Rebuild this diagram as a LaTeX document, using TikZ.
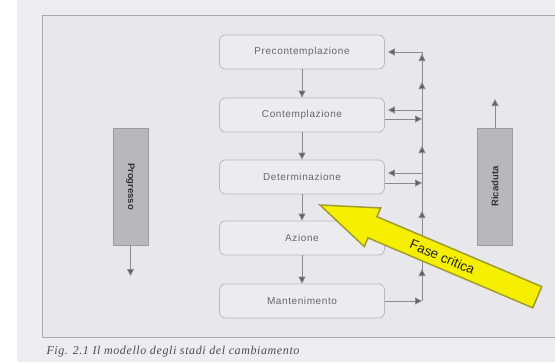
\documentclass[tikz,border=0pt]{standalone}
\usepackage{fontspec}
\setmainfont{Liberation Sans}
\newfontfamily\capfont[LetterSpace=5]{Liberation Serif}
\newfontfamily\stagefont[LetterSpace=6]{Liberation Sans}
\usepackage{tikz}
\usepackage{color}
\usetikzlibrary{arrows.meta,decorations.markings}
\definecolor{paper}{HTML}{EDEDF1}
\definecolor{panel}{HTML}{E7E7EC}
\definecolor{frameline}{HTML}{A9A9B1}
\definecolor{boxline}{HTML}{B9B9C0}
\definecolor{boxfill}{HTML}{ECECF0}
\definecolor{boxtext}{HTML}{66666B}
\definecolor{barfill}{HTML}{B7B7BD}
\definecolor{barline}{HTML}{9C9CA3}
\definecolor{linegray}{HTML}{8A8A90}
\definecolor{tipgray}{HTML}{5E5E64}
\definecolor{arrowyellow}{HTML}{F6F000}
\definecolor{arrowedge}{HTML}{A09C30}

\begin{document}
\begin{tikzpicture}[x=1pt,y=-1pt,
  stage/.style={draw=boxline, fill=boxfill, rounded corners=6pt, line width=0.8pt,
    minimum width=165pt, minimum height=34pt, text=boxtext,
    font=\stagefont\fontsize{10}{12}\selectfont},
  sidebar/.style={draw=barline, fill=barfill, minimum width=35pt, minimum height=117pt,
    inner sep=0pt, font=\bfseries\fontsize{9.5}{11}\selectfont, text=black!80},
  gtip/.tip={Triangle[width=7pt,length=7pt,fill=tipgray]},
  flow/.style={draw=linegray, line width=0.8pt, -{gtip}},
  back/.style={flow, shorten >=3pt}]
\useasboundingbox (0,0) rectangle (555,362);
\fill[white] (0,0) rectangle (555,362);
\fill[paper] (17,0) rectangle (555,362);
\fill[panel] (42,15) rectangle (555,337);
\draw[frameline, line width=1pt] (555,15) -- (42,15) -- (42,337) -- (555,337);

\node[stage] (pre) at (302,52) {Precontemplazione};
\node[stage] (con) at (302,115) {Contemplazione};
\node[stage] (det) at (302,177) {Determinazione};
\node[stage] (azi) at (302,238) {Azione};
\node[stage] (man) at (302,301) {Mantenimento};

\draw[flow] (pre) -- (con);
\draw[flow] (con) -- (det);
\draw[flow] (det) -- (azi);
\draw[flow] (azi) -- (man);

\coordinate (fb) at (422,0);
\coordinate (con-back) at ([yshift=5pt]con.east);
\coordinate (con-fwd) at ([yshift=-4pt]con.east);
\coordinate (det-back) at ([yshift=4pt]det.east);
\coordinate (det-fwd) at ([yshift=-6pt]det.east);

\draw[linegray, line width=0.8pt, postaction={decorate},
  decoration={markings,
    mark=at position 32pt with {\arrow{gtip}},
    mark=at position 90pt with {\arrow{gtip}},
    mark=at position 155pt with {\arrow{gtip}},
    mark=at position 219pt with {\arrow{gtip}},
    mark=at position 247pt with {\arrow{gtip}}}]
  (man.east -| fb) -- (pre.east -| fb);
\draw[back] (pre.east -| fb) -- (pre.east);
\draw[back] (con-back -| fb) -- (con-back);
\draw[flow] (con-fwd) -- (con-fwd -| fb);
\draw[back] (det-back -| fb) -- (det-back);
\draw[flow] (det-fwd) -- (det-fwd -| fb);
\draw[flow] (man.east) -- (man.east -| fb);

\node[sidebar] (prog) at (130.5,186.5) {\rotatebox{-90}{Progresso}};
\node[sidebar] (rica) at (495,186.5) {\rotatebox{90}{Ricaduta}};
\coordinate (prog-end) at (130.5,276);
\coordinate (rica-end) at (495,99);
\draw[flow] (prog) -- (prog-end);
\draw[flow] (rica) -- (rica-end);

\begin{scope}[shift={(320,205)}, rotate=-23]
\filldraw[fill=arrowyellow, draw=arrowedge, line width=1.5pt, line join=miter]
  (0,0) -- (57,-21) -- (57,-11.5) -- (236,-11.5) -- (236,11.5) -- (57,11.5) -- (57,21) -- cycle;
\node[rotate=-23, font=\fontsize{13.5}{15}\selectfont, text=black!85] (fase) at (133,0) {Fase critica};
\end{scope}

\node[anchor=west, font=\capfont\itshape\fontsize{12}{14}\selectfont, text=black!70] (cap) at (43,352)
  {Fig. 2.1 Il modello degli stadi del cambiamento};
\end{tikzpicture}
\end{document}
